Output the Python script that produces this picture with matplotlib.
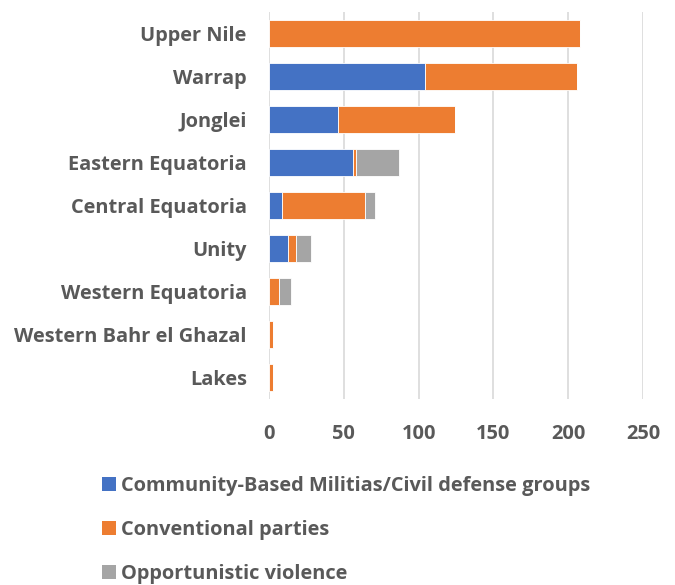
import matplotlib
matplotlib.use("Agg")
from matplotlib import pyplot as plt
from matplotlib.patches import Patch

# data
regions = ['Upper Nile', 'Warrap', 'Jonglei', 'Eastern Equatoria', 'Central Equatoria',
           'Unity', 'Western Equatoria', 'Western Bahr el Ghazal', 'Lakes']
militias = [0, 104, 46, 56, 9, 13, 0, 0, 0]
conventional = [208, 102, 78, 2, 55, 5, 7, 3, 3]
opportunistic = [0, 0, 0, 29, 7, 10, 8, 0, 0]
series_names = ['Community-Based Militias/Civil defense groups',
                'Conventional parties', 'Opportunistic violence']
xticks = [0, 50, 100, 150, 200, 250]

colors = ['#4472C4', '#ED7D31', '#A5A5A5']
text_col = '#595959'
fs = 14.4

plt.rcParams['font.family'] = ['Open Sans', 'DejaVu Sans']
plt.rcParams['font.weight'] = 'bold'

fig = plt.figure(figsize=(6.75, 5.85), dpi=100)
ax = fig.add_axes([269 / 675, 1 - 399 / 585, (643 - 269) / 675, (399 - 12) / 585])

ypos = list(range(len(regions)))
left = [0] * len(regions)
for vals, c in zip([militias, conventional, opportunistic], colors):
    ax.barh(ypos, vals, left=left, height=0.63, color=c, edgecolor='white', linewidth=0.6, zorder=3)
    left = [l + v for l, v in zip(left, vals)]

ax.set_ylim(len(regions) - 0.5, -0.5)
ax.set_xlim(0, 250)
ax.set_xticks(xticks)
ax.set_xticklabels([str(t) for t in xticks])
ax.set_yticks(ypos)
ax.set_yticklabels(regions)
ax.tick_params(axis='both', length=0, labelsize=fs, colors=text_col)
ax.tick_params(axis='y', pad=16)
ax.tick_params(axis='x', pad=18)
for lab in ax.get_xticklabels() + ax.get_yticklabels():
    lab.set_fontweight('bold')
ax.grid(axis='x', color='#D9D9D9', linewidth=1.2, zorder=0)
for s in ax.spines.values():
    s.set_visible(False)

handles = [Patch(facecolor=c, edgecolor='none') for c in colors]
leg = fig.legend(handles, series_names, loc='upper left', bbox_to_anchor=(102 / 675, 1 - 476 / 585),
                 frameon=False, fontsize=fs, handlelength=0.7, handleheight=0.7,
                 handletextpad=0.25, labelspacing=1.2, borderaxespad=0, borderpad=0)
for t in leg.get_texts():
    t.set_color(text_col)
    t.set_fontweight('bold')

fig.savefig('out.png', dpi=100, facecolor='white')
